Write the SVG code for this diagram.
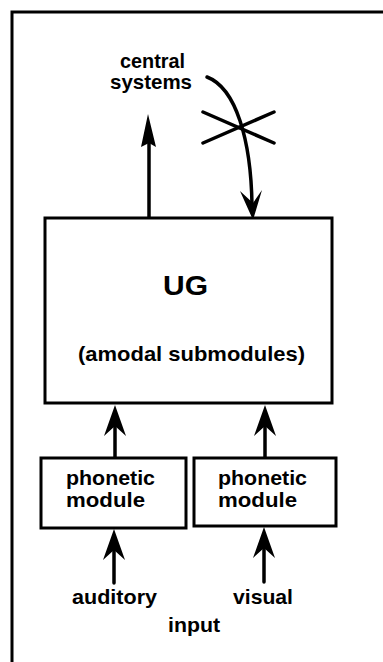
<svg xmlns="http://www.w3.org/2000/svg" width="383" height="662" viewBox="0 0 383 662">
<style>
  .frame{fill:none;stroke:#000;stroke-width:3}
  .box{fill:#fff;stroke:#000;stroke-width:3}
  .line{fill:none;stroke:#000;stroke-width:3.5;stroke-linecap:round}
  .head{fill:#000;stroke:none}
  text{font-family:"Liberation Sans",Arial,sans-serif;font-weight:bold;fill:#000}
  .lbl{font-size:21px}
  .big{font-size:28px}
</style>
<rect width="383" height="662" fill="#fff"/>
<path class="frame" d="M12,662 V12 H383"/>
<g id="connectors">
  <line class="line" x1="149" y1="218" x2="149" y2="140"/>
  <path class="head" d="M148,114 L156,147 L149,143 L141,147 Z"/>
  <path class="line" d="M207,77 C236,88 251,140 252,205"/>
  <path class="head" d="M253,220 L262,190 L253,203 L240,191 Z"/>
  <line class="line" x1="203" y1="112" x2="274" y2="143"/>
  <line class="line" x1="203" y1="143" x2="274" y2="112"/>
  <line class="line" x1="115" y1="457" x2="115" y2="425"/>
  <path class="head" d="M115,405 L126,436 L115,426 L104,436 Z"/>
  <line class="line" x1="265" y1="457" x2="265" y2="425"/>
  <path class="head" d="M265,405 L276,436 L265,426 L254,436 Z"/>
  <line class="line" x1="114" y1="583" x2="114" y2="548"/>
  <path class="head" d="M114,529 L125,560 L114,550 L103,560 Z"/>
  <line class="line" x1="264" y1="582" x2="264" y2="546"/>
  <path class="head" d="M264,527 L275,558 L264,548 L253,558 Z"/>
</g>
<g id="central-systems">
  <text class="lbl" x="120" y="68" textLength="65" lengthAdjust="spacingAndGlyphs">central</text>
  <text class="lbl" x="110" y="89" textLength="82" lengthAdjust="spacingAndGlyphs">systems</text>
</g>
<g id="ug">
  <rect class="box" x="45" y="218" width="287" height="185"/>
  <text class="big" x="163" y="295" textLength="45" lengthAdjust="spacingAndGlyphs">UG</text>
  <text class="lbl" x="78" y="361" textLength="227" lengthAdjust="spacingAndGlyphs">(amodal submodules)</text>
</g>
<g id="phonetic-auditory">
  <rect class="box" x="41" y="458" width="145" height="70"/>
  <text class="lbl" x="66" y="485" textLength="89" lengthAdjust="spacingAndGlyphs">phonetic</text>
  <text class="lbl" x="66" y="507" textLength="79" lengthAdjust="spacingAndGlyphs">module</text>
</g>
<g id="phonetic-visual">
  <rect class="box" x="194" y="458" width="142" height="68"/>
  <text class="lbl" x="218" y="485" textLength="89" lengthAdjust="spacingAndGlyphs">phonetic</text>
  <text class="lbl" x="218" y="507" textLength="79" lengthAdjust="spacingAndGlyphs">module</text>
</g>
<g id="inputs">
  <text class="lbl" x="72" y="604" textLength="85" lengthAdjust="spacingAndGlyphs">auditory</text>
  <text class="lbl" x="233" y="604" textLength="60" lengthAdjust="spacingAndGlyphs">visual</text>
  <text class="lbl" x="168" y="632" textLength="52" lengthAdjust="spacingAndGlyphs">input</text>
</g>
</svg>
